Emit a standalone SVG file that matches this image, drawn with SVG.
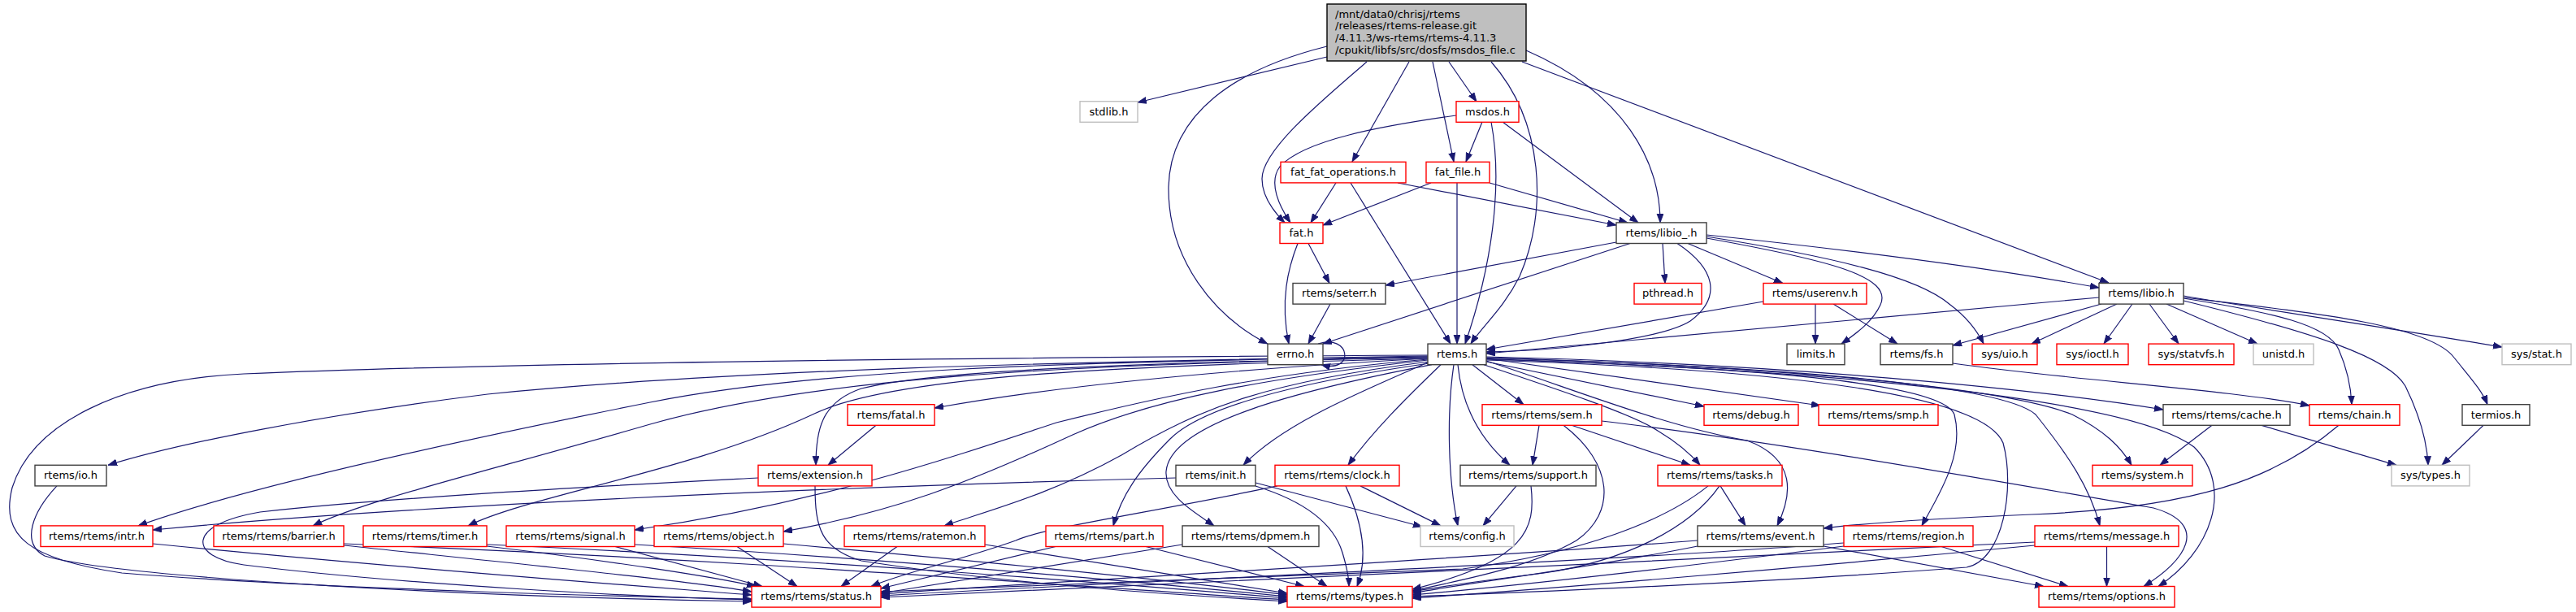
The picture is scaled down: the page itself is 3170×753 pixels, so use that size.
<svg xmlns="http://www.w3.org/2000/svg" width="3170" height="753" viewBox="0 0 3170 753">
<style>
.node rect{fill:#ffffff;stroke-width:1.4}
.blk rect{stroke:#404040}
.red rect{stroke:#ff0000}
.gry rect{stroke:#bfbfbf}
#n_main rect{fill:#bfbfbf;stroke:#000000}
text{font-family:"DejaVu Sans","Liberation Sans",sans-serif;font-size:13px;fill:#000000;text-anchor:middle}
#n_main text{text-anchor:start}
#edges path{fill:none;stroke:#191970;stroke-width:1.2;marker-end:url(#ah)}
</style>
<defs>
<marker id="ah" markerUnits="userSpaceOnUse" markerWidth="12" markerHeight="9" refX="11" refY="4" orient="auto"><path d="M0,0 L11,4 L0,8 z" fill="#191970" stroke="#191970" stroke-width="0.8"/></marker>
</defs>
<rect x="0" y="0" width="3170" height="753" fill="#ffffff"/>
<g id="edges">
<path d="M1633,70 L1400,126"/>
<path d="M1633,57 C1520,85 1440,140 1438,230 C1437,320 1495,390 1560,423"/>
<path d="M1682,76 C1625,125 1553,185 1553,220 C1553,240 1567,260 1581,274"/>
<path d="M1792,142 C1700,155 1605,172 1575,205 C1560,225 1575,255 1588,274"/>
<path d="M1734,76 L1664,199"/>
<path d="M1763,76 L1789,199"/>
<path d="M1783,76 L1817,125"/>
<path d="M1835,76 C1900,150 1905,260 1870,340 C1850,380 1825,400 1810,423"/>
<path d="M1878,62 C2000,115 2043,200 2043,274"/>
<path d="M1873,76 L2595,348"/>
<path d="M1824,150 L1804,199"/>
<path d="M1849,150 L2016,274"/>
<path d="M1835,150 C1850,230 1835,330 1803,423"/>
<path d="M1644,225 L1613,274"/>
<path d="M1720,225 L1989,277"/>
<path d="M1662,225 L1785,423"/>
<path d="M1761,225 L1628,277"/>
<path d="M1833,225 L2003,274"/>
<path d="M1793,225 L1793,423"/>
<path d="M1610,299.5 L1636,348.5"/>
<path d="M1597,299.5 C1585,330 1575,370 1586,423"/>
<path d="M1989,298 L1705,351"/>
<path d="M2006,299.5 L1628,423"/>
<path d="M2046,299.5 L2049,348.5"/>
<path d="M2077,299.5 L2194,348.5"/>
<path d="M2064,299.5 C2110,330 2120,365 2080,395 C2040,420 1900,432 1829,433"/>
<path d="M2100,293 C2250,320 2330,340 2314,375 C2305,395 2285,410 2266,423"/>
<path d="M2100,291 C2250,315 2360,340 2400,375 C2420,390 2432,405 2441,423"/>
<path d="M2100,289 C2300,310 2450,330 2583,354"/>
<path d="M1637,374 L1610,423"/>
<path d="M2170,371 L1829,430"/>
<path d="M2234,374 L2234,423"/>
<path d="M2256,374 L2335,423"/>
<path d="M2583,366 L1829,435"/>
<path d="M2586,374 L2403,425"/>
<path d="M2605,374 L2500,423"/>
<path d="M2624,374 L2589,423"/>
<path d="M2645,374 L2681,423"/>
<path d="M2666,374 L2778,423"/>
<path d="M2687,364 C2800,383 2950,405 3079,427"/>
<path d="M2687,367 C2800,385 2865,400 2878,430 C2889,455 2893,475 2894,497.7"/>
<path d="M2687,370 C2850,410 2940,440 2960,475 C2982,520 2987,550 2988,572.3"/>
<path d="M2687,366 C2850,385 2990,400 3020,440 C3040,465 3054,480 3061,497.7"/>
<path d="M2403,447 C2550,468 2750,480 2842,499"/>
<path d="M1622,423.1 C1662,410 1668,460 1626,448.7"/>
<path d="M1757,437 C1200,440 600,447 300,460 C150,467 40,520 15,600 C0,660 35,688 150,705 C400,725 800,735 925,737"/>
<path d="M1757,438 C1300,445 900,455 600,485 C400,510 220,545 133,572.3"/>
<path d="M1757,439 C1300,445 1000,455 800,495 C550,545 300,600 170,646.9"/>
<path d="M1757,440 C1300,448 1000,465 800,522 C600,580 450,615 385,646.9"/>
<path d="M1757,441 C1400,450 1100,460 1000,510 C850,580 650,610 576,646.9"/>
<path d="M1757,442 C1550,460 1420,490 1300,520 C1150,570 1000,620 781,652"/>
<path d="M1757,443 C1560,465 1420,490 1320,535 C1190,595 1100,630 964,654"/>
<path d="M1757,439 C1400,447 1150,455 1060,478 C1010,495 1004,530 1004,572.3"/>
<path d="M1757,441 C1500,455 1300,475 1150,502"/>
<path d="M1758,445 C1560,470 1480,500 1380,560 C1290,610 1210,630 1162,646.9"/>
<path d="M1759,447 C1600,470 1480,500 1440,540 C1400,580 1380,610 1370,646.9"/>
<path d="M1762,448.7 C1600,480 1440,520 1435,580 C1433,610 1470,630 1494,646.9"/>
<path d="M1757,446 C1680,480 1580,520 1530,572.3"/>
<path d="M1773,448.7 C1730,490 1690,530 1659,572.3"/>
<path d="M1789,448.7 C1780,510 1782,590 1794,646.9"/>
<path d="M1794,448.7 C1798,490 1815,535 1858,572.3"/>
<path d="M1812,448.7 L1875,497.7"/>
<path d="M1826,448.7 C1920,480 2010,510 2040,530 C2065,545 2080,558 2092,572.3"/>
<path d="M1829,445 L2097,500"/>
<path d="M1829,441 L2240,499"/>
<path d="M1829,444 C1940,480 2050,525 2150,542 C2212,565 2205,610 2187,646.9"/>
<path d="M1829,441.5 C2150,452 2390,470 2405,510 C2418,560 2385,610 2365,646.9"/>
<path d="M1829,440.5 C2150,450 2460,470 2505,510 C2545,560 2572,600 2584,646.9"/>
<path d="M1829,440 C2100,448 2450,470 2550,510 C2590,530 2610,550 2623,572.3"/>
<path d="M1829,439 C2200,448 2500,478 2662,504"/>
<path d="M1829,442 C2250,455 2620,490 2700,550 C2750,600 2720,680 2656,721.5"/>
<path d="M1829,443 C2200,455 2440,485 2465,545 C2480,600 2465,690 2420,698 C2200,715 1900,728 1738,734"/>
<path d="M1078,523.3 L1019,572.3"/>
<path d="M1894,523.3 L1886,572.3"/>
<path d="M1934,523.3 L2080,572.3"/>
<path d="M1924,523.3 C1985,570 1990,630 1940,665 C1880,700 1790,715 1738,727"/>
<path d="M1971,518 C2200,545 2500,600 2650,625 C2720,645 2690,690 2638,721.5"/>
<path d="M2117,597.9 L2148,646.9"/>
<path d="M2102,597.9 C2050,640 1950,680 1800,700 C1500,712 1200,722 1084,728"/>
<path d="M2116,597.9 C2080,650 2000,690 1900,705 C1820,715 1770,722 1738,728"/>
<path d="M1866,597.9 L1825,646.9"/>
<path d="M1884,597.9 C1890,650 1880,690 1738,725"/>
<path d="M1656,597.9 C1680,650 1682,690 1670,721.5"/>
<path d="M1674,597.9 L1773,646.9"/>
<path d="M1572,597.9 C1420,630 1280,650 1250,665 C1180,690 1110,705 1072,721.5"/>
<path d="M1447,588 C1000,600 500,622 188,652"/>
<path d="M1545,594 L1750,648"/>
<path d="M1545,598 C1600,615 1640,640 1652,680 C1658,700 1660,710 1660,721.5"/>
<path d="M933,588 C800,595 500,610 320,630 C230,645 230,685 300,695 C500,720 800,735 925,738"/>
<path d="M1003,597.9 C1003,650 1010,675 1060,690 C1250,720 1450,732 1584,740"/>
<path d="M70,597.9 C40,630 25,668 55,684 C150,712 600,735 925,740"/>
<path d="M188,669 C500,700 800,722 925,732"/>
<path d="M423,671 C650,695 850,715 925,728"/>
<path d="M423,669 C900,688 1300,720 1584,738"/>
<path d="M599,672 C750,690 880,710 930,721.5"/>
<path d="M599,670 C1000,688 1400,720 1584,736"/>
<path d="M757,672.5 L938,721.5"/>
<path d="M781,670 C1100,688 1400,716 1584,734"/>
<path d="M907,672.5 L981,721.5"/>
<path d="M964,669 C1200,690 1450,715 1584,732"/>
<path d="M1104,672.5 L1035,721.5"/>
<path d="M1212,670 L1584,730"/>
<path d="M1299,672.5 L1084,724"/>
<path d="M1410,672.5 L1605,721.5"/>
<path d="M1455,670 L1084,730"/>
<path d="M1560,672.5 L1633,721.5"/>
<path d="M2089,665 C1800,688 1300,715 1084,731"/>
<path d="M2089,672 C1950,700 1800,718 1738,730"/>
<path d="M2244,672 L2515,721.5"/>
<path d="M2269,668 C2000,690 1300,720 1084,733"/>
<path d="M2269,672 C2050,700 1850,722 1738,732"/>
<path d="M2389,672.5 L2545,721.5"/>
<path d="M2504,667 C2100,690 1300,722 1084,735"/>
<path d="M2504,671 C2200,700 1900,725 1738,736"/>
<path d="M2592.5,672.5 L2592.5,721.5"/>
<path d="M2878,523.3 C2800,590 2700,625 2500,633 C2380,638 2300,643 2244,650"/>
<path d="M2722,523.3 L2658,572.3"/>
<path d="M2783,523.3 L2949,572.3"/>
<path d="M3056,523.3 L3005,572.3"/>
</g>
<g id="n_main" class="node"><rect x="1633" y="5" width="245" height="70"/><text x="1643" y="21.5">/mnt/data0/chrisj/rtems</text><text x="1643" y="36.2">/releases/rtems-release.git</text><text x="1643" y="50.9">/4.11.3/ws-rtems/rtems-4.11.3</text><text x="1643" y="65.6">/cpukit/libfs/src/dosfs/msdos_file.c</text></g>
<g id="n_stdlib" class="node gry"><rect x="1329" y="124.7" width="71" height="25.6"/><text x="1364.5" y="141.5">stdlib.h</text></g>
<g id="n_msdos" class="node red"><rect x="1792" y="124.7" width="77" height="25.6"/><text x="1830.5" y="141.5">msdos.h</text></g>
<g id="n_fatops" class="node red"><rect x="1576" y="199.3" width="154" height="25.6"/><text x="1653" y="216.1">fat_fat_operations.h</text></g>
<g id="n_fatfile" class="node red"><rect x="1755" y="199.3" width="78" height="25.6"/><text x="1794" y="216.1">fat_file.h</text></g>
<g id="n_fat" class="node red"><rect x="1575" y="273.9" width="53" height="25.6"/><text x="1601.5" y="290.7">fat.h</text></g>
<g id="n_libio_" class="node blk"><rect x="1989" y="273.9" width="111" height="25.6"/><text x="2044.5" y="290.7">rtems/libio_.h</text></g>
<g id="n_seterr" class="node blk"><rect x="1591" y="348.5" width="114" height="25.6"/><text x="1648" y="365.3">rtems/seterr.h</text></g>
<g id="n_pthread" class="node red"><rect x="2011" y="348.5" width="83" height="25.6"/><text x="2052.5" y="365.3">pthread.h</text></g>
<g id="n_userenv" class="node red"><rect x="2170" y="348.5" width="127" height="25.6"/><text x="2233.5" y="365.3">rtems/userenv.h</text></g>
<g id="n_libio" class="node blk"><rect x="2583" y="348.5" width="104" height="25.6"/><text x="2635" y="365.3">rtems/libio.h</text></g>
<g id="n_errno" class="node blk"><rect x="1560" y="423.1" width="68" height="25.6"/><text x="1594" y="439.9">errno.h</text></g>
<g id="n_rtems" class="node blk"><rect x="1757" y="423.1" width="72" height="25.6"/><text x="1793" y="439.9">rtems.h</text></g>
<g id="n_limits" class="node blk"><rect x="2199" y="423.1" width="71" height="25.6"/><text x="2234.5" y="439.9">limits.h</text></g>
<g id="n_fs" class="node blk"><rect x="2314" y="423.1" width="89" height="25.6"/><text x="2358.5" y="439.9">rtems/fs.h</text></g>
<g id="n_uio" class="node red"><rect x="2427" y="423.1" width="80" height="25.6"/><text x="2467" y="439.9">sys/uio.h</text></g>
<g id="n_ioctl" class="node red"><rect x="2531" y="423.1" width="88" height="25.6"/><text x="2575" y="439.9">sys/ioctl.h</text></g>
<g id="n_statvfs" class="node red"><rect x="2644" y="423.1" width="105" height="25.6"/><text x="2696.5" y="439.9">sys/statvfs.h</text></g>
<g id="n_unistd" class="node gry"><rect x="2773" y="423.1" width="74" height="25.6"/><text x="2810" y="439.9">unistd.h</text></g>
<g id="n_stat" class="node gry"><rect x="3079" y="423.1" width="85" height="25.6"/><text x="3121.5" y="439.9">sys/stat.h</text></g>
<g id="n_fatal" class="node red"><rect x="1043" y="497.7" width="107" height="25.6"/><text x="1096.5" y="514.5">rtems/fatal.h</text></g>
<g id="n_sem" class="node red"><rect x="1824" y="497.7" width="147" height="25.6"/><text x="1897.5" y="514.5">rtems/rtems/sem.h</text></g>
<g id="n_debug" class="node red"><rect x="2097" y="497.7" width="116" height="25.6"/><text x="2155" y="514.5">rtems/debug.h</text></g>
<g id="n_smp" class="node red"><rect x="2238" y="497.7" width="147" height="25.6"/><text x="2311.5" y="514.5">rtems/rtems/smp.h</text></g>
<g id="n_cache" class="node blk"><rect x="2662" y="497.7" width="156" height="25.6"/><text x="2740" y="514.5">rtems/rtems/cache.h</text></g>
<g id="n_chain" class="node red"><rect x="2842" y="497.7" width="111" height="25.6"/><text x="2897.5" y="514.5">rtems/chain.h</text></g>
<g id="n_termios" class="node blk"><rect x="3030" y="497.7" width="83" height="25.6"/><text x="3071.5" y="514.5">termios.h</text></g>
<g id="n_io" class="node blk"><rect x="43" y="572.3" width="88" height="25.6"/><text x="87" y="589.1">rtems/io.h</text></g>
<g id="n_ext" class="node red"><rect x="933" y="572.3" width="140" height="25.6"/><text x="1003" y="589.1">rtems/extension.h</text></g>
<g id="n_init" class="node blk"><rect x="1447" y="572.3" width="98" height="25.6"/><text x="1496" y="589.1">rtems/init.h</text></g>
<g id="n_clock" class="node red"><rect x="1569" y="572.3" width="153" height="25.6"/><text x="1645.5" y="589.1">rtems/rtems/clock.h</text></g>
<g id="n_support" class="node blk"><rect x="1797" y="572.3" width="167" height="25.6"/><text x="1880.5" y="589.1">rtems/rtems/support.h</text></g>
<g id="n_tasks" class="node red"><rect x="2040" y="572.3" width="153" height="25.6"/><text x="2116.5" y="589.1">rtems/rtems/tasks.h</text></g>
<g id="n_system" class="node red"><rect x="2575" y="572.3" width="123" height="25.6"/><text x="2636.5" y="589.1">rtems/system.h</text></g>
<g id="n_systypes" class="node gry"><rect x="2943" y="572.3" width="96" height="25.6"/><text x="2991" y="589.1">sys/types.h</text></g>
<g id="n_intr" class="node red"><rect x="50" y="646.9" width="138" height="25.6"/><text x="119" y="663.7">rtems/rtems/intr.h</text></g>
<g id="n_barrier" class="node red"><rect x="263" y="646.9" width="160" height="25.6"/><text x="343" y="663.7">rtems/rtems/barrier.h</text></g>
<g id="n_timer" class="node red"><rect x="447" y="646.9" width="152" height="25.6"/><text x="523" y="663.7">rtems/rtems/timer.h</text></g>
<g id="n_signal" class="node red"><rect x="623" y="646.9" width="158" height="25.6"/><text x="702" y="663.7">rtems/rtems/signal.h</text></g>
<g id="n_object" class="node red"><rect x="805" y="646.9" width="159" height="25.6"/><text x="884.5" y="663.7">rtems/rtems/object.h</text></g>
<g id="n_ratemon" class="node red"><rect x="1039" y="646.9" width="173" height="25.6"/><text x="1125.5" y="663.7">rtems/rtems/ratemon.h</text></g>
<g id="n_part" class="node red"><rect x="1287" y="646.9" width="144" height="25.6"/><text x="1359" y="663.7">rtems/rtems/part.h</text></g>
<g id="n_dpmem" class="node blk"><rect x="1455" y="646.9" width="168" height="25.6"/><text x="1539" y="663.7">rtems/rtems/dpmem.h</text></g>
<g id="n_config" class="node gry"><rect x="1748" y="646.9" width="115" height="25.6"/><text x="1805.5" y="663.7">rtems/config.h</text></g>
<g id="n_event" class="node blk"><rect x="2089" y="646.9" width="155" height="25.6"/><text x="2166.5" y="663.7">rtems/rtems/event.h</text></g>
<g id="n_region" class="node red"><rect x="2269" y="646.9" width="159" height="25.6"/><text x="2348.5" y="663.7">rtems/rtems/region.h</text></g>
<g id="n_message" class="node red"><rect x="2504" y="646.9" width="177" height="25.6"/><text x="2592.5" y="663.7">rtems/rtems/message.h</text></g>
<g id="n_status" class="node red"><rect x="925" y="721.5" width="159" height="25.6"/><text x="1004.5" y="738.3">rtems/rtems/status.h</text></g>
<g id="n_types" class="node red"><rect x="1584" y="721.5" width="154" height="25.6"/><text x="1661" y="738.3">rtems/rtems/types.h</text></g>
<g id="n_options" class="node red"><rect x="2509" y="721.5" width="167" height="25.6"/><text x="2592.5" y="738.3">rtems/rtems/options.h</text></g>
</svg>
